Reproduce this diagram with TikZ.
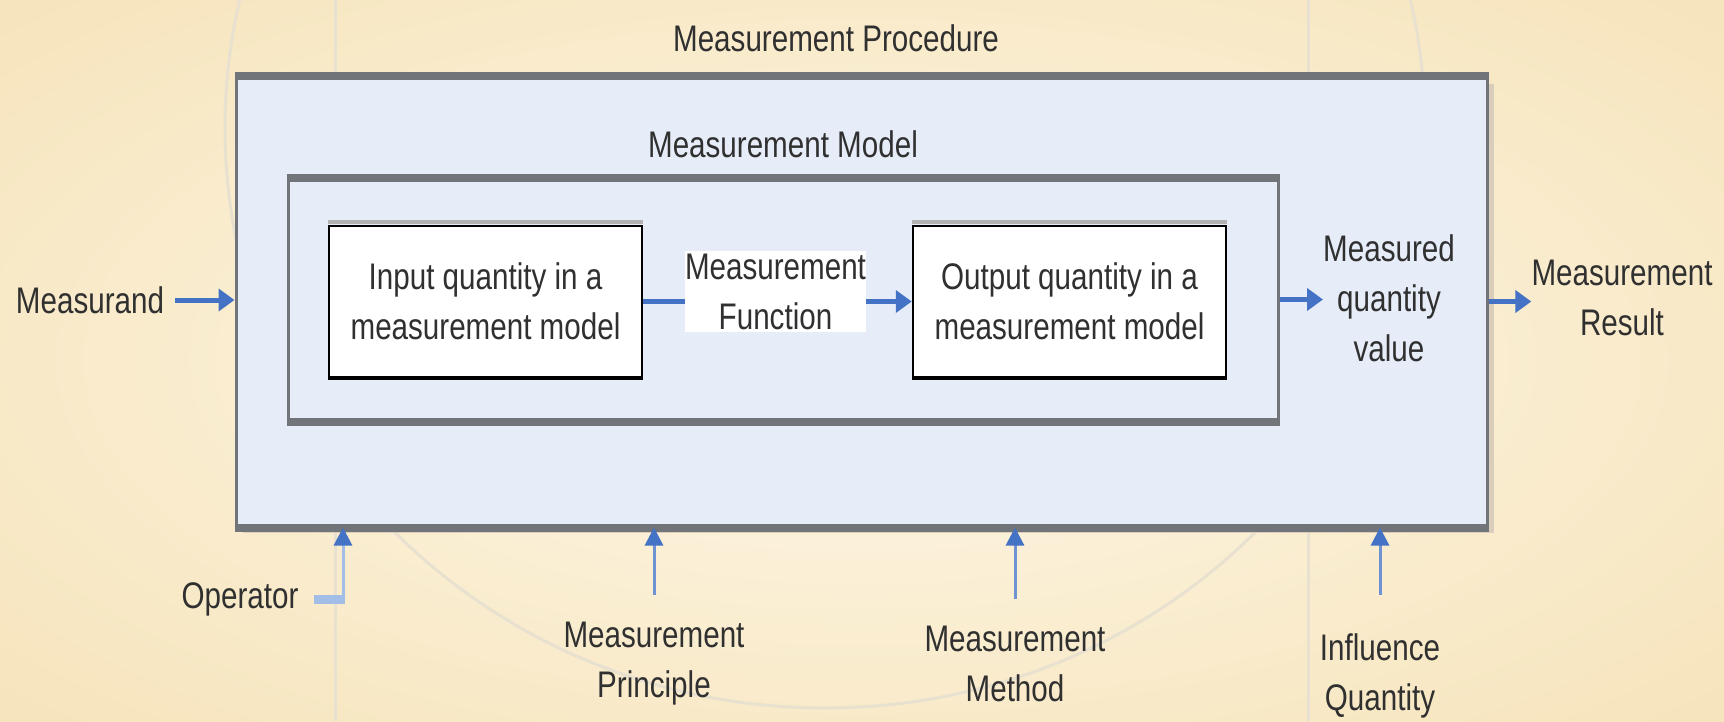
\documentclass[tikz,border=0pt]{standalone}
\usepackage{fontspec}
\setmainfont{Liberation Sans}[FakeStretch=0.8]
\usetikzlibrary{arrows.meta,positioning,shadows}
\definecolor{parch}{HTML}{FEF8E8}
\definecolor{parchedge}{HTML}{F6E4BC}
\definecolor{boxfill}{HTML}{E6EDF8}
\definecolor{boxline}{HTML}{717479}
\definecolor{arrowblue}{HTML}{4472C4}
\definecolor{lineblue}{HTML}{6F93D2}
\definecolor{lightblue}{HTML}{A2BDE6}
\definecolor{faint}{HTML}{E9E1CF}
\definecolor{shade}{HTML}{DACDBB}
\definecolor{txt}{HTML}{303030}

\begin{document}
\begin{tikzpicture}[x=1pt, y=-1pt,
    every node/.style={font=\fontsize{37}{50}\selectfont, text=txt, align=center, inner sep=0pt},
    frame/.style={draw=boxline, line width=3pt, fill=boxfill},
    qbox/.style={draw=black, line width=2.5pt, fill=white, minimum width=313pt, minimum height=151pt},
    flow/.style={arrowblue, line width=5pt, -{Triangle[length=16pt,width=22pt]}},
    feed/.style={lineblue, line width=3pt, -{Triangle[length=18pt,width=18pt,color=arrowblue]}}]

    \useasboundingbox (0,0) rectangle (1724,721);
    \clip (0,0) rectangle (1724,721);

    % parchment background with faint slide decoration
    \fill[parch] (0,0) rectangle (1724,721);
    \shade[inner color=parch, outer color=parchedge] (-300,-150) rectangle (2024,871);
    \draw[faint, line width=3pt] (335,0) -- (335,721);
    \draw[faint, line width=3pt] (1308,0) -- (1308,721);
    \draw[faint, line width=3pt] (825,128) ellipse (600 and 580);

    % procedure and model frames
    \node[frame, minimum width=1251pt, minimum height=449pt,
          drop shadow={shadow xshift=7pt, shadow yshift=-7pt, fill=shade, opacity=1}] (proc) at (861.5,301.5) {};
    \draw[boxline, line width=8pt] (proc.north west) -- (proc.north east);
    \draw[boxline, line width=8pt] (proc.south west) -- (proc.south east);

    \node[frame, minimum width=990pt, minimum height=241pt] (model) at (783,299.5) {};
    \draw[boxline, line width=8pt] (model.north west) -- (model.north east);
    \draw[boxline, line width=8pt] (model.south west) -- (model.south east);

    % quantities and function
    \node[qbox] (in) at (485.5,301.5) {Input quantity in a\\measurement model};
    \node[fill=white, minimum width=181pt, minimum height=81pt] (fn) at (775.5,291.5) {Measurement\\Function};
    \node[qbox] (out) at (1069.5,301.5) {Output quantity in a\\measurement model};
    \foreach \b in {in, out} {
        \draw[gray!60, line width=4pt] ([yshift=3pt]\b.north west) -- ([yshift=3pt]\b.north east);
        \draw[black, line width=4pt] (\b.south west) -- (\b.south east);
    }

    % labels
    \node (mp) at (836,38) {Measurement Procedure};
    \node (mm) at (783,144) {Measurement Model};
    \node (mqv) at (1389,298) {Measured\\quantity\\value};
    \node (res) at (1622,298) {Measurement\\Result};
    \node (msd) at (90,300) {Measurand};
    \node (op) at (240,599) {Operator};
    \node (prin) at (654,664) {Measurement\\Principle};
    \node (meth) at (1015,664) {Measurement\\Method};
    \node (infl) at (1380,676) {Influence\\Quantity};

    % main flow
    \draw[flow] ([xshift=11pt]msd.east) -- (msd.east -| proc.west);
    \draw[arrowblue, line width=5pt] (in.east) -- (in.east -| fn.west);
    \draw[flow] (fn.east |- out.west) -- (out.west);
    \draw[flow] (model.east) -- (model.east -| mqv.west);
    \draw[flow] (proc.east) -- (proc.east -| res.west);

    % inputs from below
    \coordinate (opc) at (343,599);
    \draw[lightblue, line width=9pt] ([xshift=15pt]op.east) -- ([xshift=2pt]opc);
    \draw[feed, lightblue] (opc) -- (opc |- proc.south);
    \draw[feed] ([yshift=27pt]prin.north) -- (prin.north |- proc.south);
    \draw[feed] ([yshift=27pt]meth.north) -- (meth.north |- proc.south);
    \draw[feed] ([yshift=39pt]infl.north) -- (infl.north |- proc.south);
\end{tikzpicture}
\end{document}
